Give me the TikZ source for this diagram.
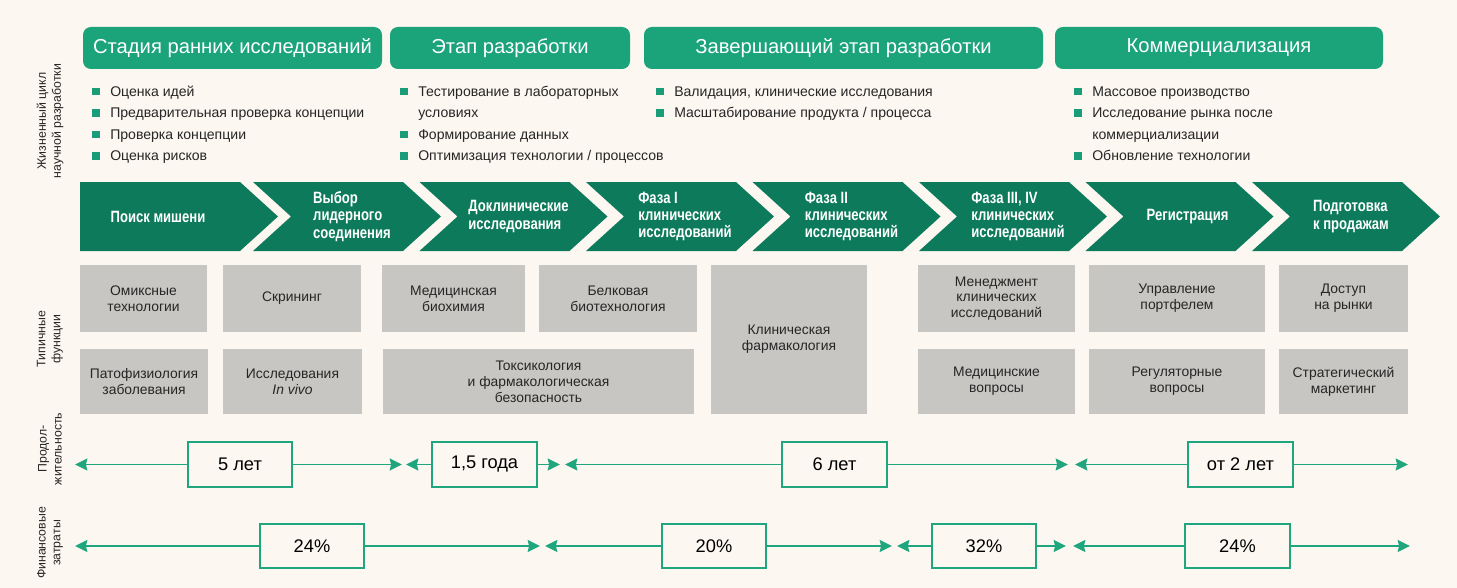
\documentclass[tikz,border=0pt]{standalone}
\usepackage{fontspec}
\setmainfont{Liberation Sans}
\newfontfamily\chevfont[FakeStretch=0.8]{Liberation Sans}
\usepackage{xcolor}
\usetikzlibrary{arrows.meta,positioning}

\definecolor{bgcream}{HTML}{FCF7F0}
\definecolor{headgreen}{HTML}{1BA37A}
\definecolor{chevgreen}{HTML}{0D7B5B}
\definecolor{bulgreen}{HTML}{1B9C79}
\definecolor{boxgray}{HTML}{C8C6C3}
\definecolor{arrgreen}{HTML}{20A67E}
\definecolor{txtdark}{HTML}{262626}

\newcommand\bsq{\textcolor{bulgreen}{\rule[0.6pt]{4.2pt}{4.2pt}}}

\begin{document}
\begin{tikzpicture}[
  x=0.02cm, y=-0.02cm,
  wh/.style 2 args={minimum width=#1*0.02cm, minimum height=#2*0.02cm},
  head/.style={fill=headgreen, rounded corners=4.5pt, inner sep=0pt,
               text=white, font=\fontsize{11.5}{13}\selectfont},
  bullets/.style={inner sep=0pt, text=txtdark,
                  font=\fontsize{8}{12.2}\selectfont},
  chev/.style={fill=chevgreen},
  chevtxt/.style={text=white, align=left, inner sep=0pt,
                  font=\chevfont\bfseries\fontsize{9.3}{9.9}\selectfont},
  gbox/.style={fill=boxgray, inner sep=0pt, align=center, text=txtdark,
               font=\fontsize{7.9}{9}\selectfont},
  side/.style={rotate=90, align=center, inner sep=0pt, text=txtdark,
               font=\fontsize{7}{8.5}\selectfont},
  val/.style={draw=arrgreen, line width=0.9pt, fill=bgcream, inner sep=0pt,
              text=black, font=\fontsize{10.4}{12}\selectfont},
  arr/.style={-{Stealth[length=7pt, width=6.8pt, inset=0.8pt]},
              draw=arrgreen, line width=1.1pt}
]

% background
\fill[bgcream] (0,0) rectangle (1457,588);

% stages
\node[head, wh={299}{42}] (h1) at (232.5,48) {Стадия ранних исследований};
\node[head, wh={240}{42}] (h2) at (510,48)   {Этап разработки};
\node[head, wh={399}{42}] (h3) at (843.5,48) {Завершающий этап разработки};
\node[head, wh={328}{42}] (h4) at (1219,48)  {Коммерциализация};

% bullet lists
\node[bullets, anchor=base west] (b1) at (92,96.5) {%
  \begin{tabular}[t]{@{}l@{\hspace{6pt}}l@{}}
  \bsq & Оценка идей\\
  \bsq & Предварительная проверка концепции\\
  \bsq & Проверка концепции\\
  \bsq & Оценка рисков
  \end{tabular}};
\node[bullets, anchor=base west] (b2) at (400,96.5) {%
  \begin{tabular}[t]{@{}l@{\hspace{6pt}}l@{}}
  \bsq & Тестирование в лабораторных\\
       & условиях\\
  \bsq & Формирование данных\\
  \bsq & Оптимизация технологии / процессов
  \end{tabular}};
\node[bullets, anchor=base west] (b3) at (656,96.5) {%
  \begin{tabular}[t]{@{}l@{\hspace{6pt}}l@{}}
  \bsq & Валидация, клинические исследования\\
  \bsq & Масштабирование продукта / процесса
  \end{tabular}};
\node[bullets, anchor=base west] (b4) at (1074,96.5) {%
  \begin{tabular}[t]{@{}l@{\hspace{6pt}}l@{}}
  \bsq & Массовое производство\\
  \bsq & Исследование рынка после\\
       & коммерциализации\\
  \bsq & Обновление технологии
  \end{tabular}};

% chevrons
\fill[chev] (80,182) -- (240,182) -- (278,216.5) -- (240,251) -- (80,251) -- cycle;
\foreach \i in {1,...,7} {
  \pgfmathsetmacro\xo{253+166.5*(\i-1)}
  \fill[chev] (\xo,182) -- ({\xo+150},182) -- ({\xo+188},216.5)
    -- ({\xo+150},251) -- (\xo,251) -- ({\xo+38},216.5) -- cycle;
}
\node[chevtxt] (s1) at (158,216.5)    {Поиск мишени};
\node[chevtxt] (s2) at (352,216.5)    {Выбор\\лидерного\\соединения};
\node[chevtxt] (s3) at (518.5,216.5)  {Доклинические\\исследования};
\node[chevtxt] (s4) at (685,216.5)    {Фаза I\\клинических\\исследований};
\node[chevtxt] (s5) at (851.5,216.5)  {Фаза II\\клинических\\исследований};
\node[chevtxt] (s6) at (1018,216.5)   {Фаза III, IV\\клинических\\исследований};
\node[chevtxt] (s7) at (1187.5,216.5) {Регистрация};
\node[chevtxt] (s8) at (1351,216.5)   {Подготовка\\к продажам};

% typical functions
\node[gbox, wh={127}{67}]  (omics)   at (143.5,298.5) {Омиксные\\технологии};
\node[gbox, wh={138}{67}]  (screen)  at (292,298.5)   {Скрининг};
\node[gbox, wh={143}{67}]  (medbio)  at (453.5,298.5) {Медицинская\\биохимия};
\node[gbox, wh={158}{67}]  (protein) at (618,298.5)   {Белковая\\биотехнология};
\node[gbox, wh={156}{149}] (clinph)  at (789,339.5)   {Клиническая\\фармакология};
\node[gbox, wh={157}{67}]  (mgmt)    at (996.5,298.5) {Менеджмент\\клинических\\исследований};
\node[gbox, wh={176}{67}]  (portf)   at (1177,298.5)  {Управление\\портфелем};
\node[gbox, wh={129}{67}]  (access)  at (1343.5,298.5){Доступ\\на рынки};
\node[gbox, wh={128}{65}]  (patho)   at (144,381.5)   {Патофизиология\\заболевания};
\node[gbox, wh={139}{65}]  (invivo)  at (292.5,381.5) {Исследования\\\textit{In vivo}};
\node[gbox, wh={311}{65}]  (toxic)   at (538.5,381.5) {Токсикология\\и фармакологическая\\безопасность};
\node[gbox, wh={157}{65}]  (medq)    at (996.5,381.5) {Медицинские\\вопросы};
\node[gbox, wh={176}{65}]  (regq)    at (1177,381.5)  {Регуляторные\\вопросы};
\node[gbox, wh={129}{65}]  (strat)   at (1343.5,381.5){Стратегический\\маркетинг};

% row labels
\node[side] (lblife) at (50,121) {Жизненный цикл\\научной разработки};
\node[side] (lbfunc) at (50,339) {Типичные\\функции};
\node[side] (lbdur)  at (50,449) {Продол-\\жительность};
\node[side] (lbcost) at (50,543) {Финансовые\\затраты};

% duration
\node[val, wh={104}{45}] (d1) at (240,464.5)    {5 лет};
\node[val, wh={105}{45}] (d2) at (484.5,464.5)  {1,5 года};
\node[val, wh={105}{45}] (d3) at (834.5,464.5)  {6 лет};
\node[val, wh={105}{45}] (d4) at (1240.5,464.5) {от 2 лет};
\coordinate (d1l) at (75,464.5);   \coordinate (d1r) at (402,464.5);
\coordinate (d2l) at (406,464.5);  \coordinate (d2r) at (560,464.5);
\coordinate (d3l) at (565,464.5);  \coordinate (d3r) at (1068,464.5);
\coordinate (d4l) at (1075,464.5); \coordinate (d4r) at (1408,464.5);
\foreach \n in {d1,d2,d3,d4} {
  \draw[arr] (\n.west) -- (\n l);
  \draw[arr] (\n.east) -- (\n r);
}

% costs
\node[val, wh={104}{44}] (c1) at (312,546)    {24\%};
\node[val, wh={104}{44}] (c2) at (714,546)    {20\%};
\node[val, wh={104}{44}] (c3) at (984,546)    {32\%};
\node[val, wh={105}{44}] (c4) at (1237.5,546) {24\%};
\coordinate (c1l) at (75,546);   \coordinate (c1r) at (540,546);
\coordinate (c2l) at (545,546);  \coordinate (c2r) at (892,546);
\coordinate (c3l) at (897,546);  \coordinate (c3r) at (1066,546);
\coordinate (c4l) at (1073,546); \coordinate (c4r) at (1410,546);
\foreach \n in {c1,c2,c3,c4} {
  \draw[arr] (\n.west) -- (\n l);
  \draw[arr] (\n.east) -- (\n r);
}

\end{tikzpicture}
\end{document}
